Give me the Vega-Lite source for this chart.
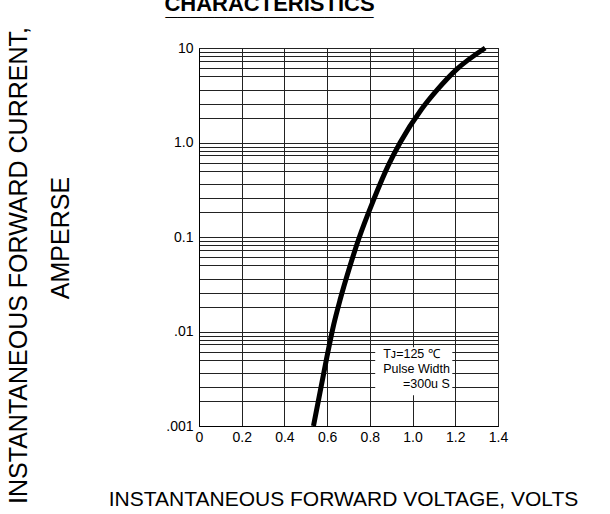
{
  "$schema": "https://vega.github.io/schema/vega-lite/v6.json",
  "width": 299,
  "height": 378,
  "autosize": "none",
  "padding": {"left": 199, "top": 48, "right": 112, "bottom": 88},
  "background": "white",
  "config": {
    "font": "Liberation Sans",
    "view": {"stroke": "black", "strokeWidth": 1}
  },
  "title": {
    "text": ["CHARACTERISTICS", "_________________"],
    "fontSize": 22,
    "fontWeight": "bold",
    "color": "black",
    "anchor": "middle",
    "frame": "group",
    "baseline": "alphabetic",
    "lineHeight": 4,
    "offset": -10.5,
    "dx": -79
  },
  "resolve": {"axis": {"y": "independent"}},
  "datasets": {
    "curve": [
      {"v": 0.536, "i": 0.001},
      {"v": 0.597, "i": 0.00512},
      {"v": 0.631, "i": 0.0119},
      {"v": 0.661, "i": 0.0218},
      {"v": 0.702, "i": 0.0453},
      {"v": 0.747, "i": 0.0942},
      {"v": 0.818, "i": 0.249},
      {"v": 0.888, "i": 0.583},
      {"v": 0.942, "i": 1.0},
      {"v": 1.041, "i": 2.23},
      {"v": 1.116, "i": 3.62},
      {"v": 1.205, "i": 5.9},
      {"v": 1.34, "i": 10}
    ],
    "box": [
      {"x1": 0.825, "x2": 1.186, "y1": 0.0068, "y2": 0.00211}
    ],
    "notes": [
      {"v": 0.8626, "i": 0.0052, "t": "Tᴊ=125 ℃"},
      {"v": 0.8626, "i": 0.0036, "t": "Pulse Width"},
      {"v": 0.955, "i": 0.0025, "t": "=300u S"}
    ]
  },
  "layer": [
    {
      "data": {"name": "box"},
      "mark": {"type": "rect", "fill": "white", "stroke": null},
      "encoding": {
        "x": {"field": "x1", "type": "quantitative"},
        "x2": {"field": "x2"},
        "y": {
          "field": "y1",
          "type": "quantitative",
          "axis": {
            "orient": "left",
            "title": "AMPERSE",
            "titleFontSize": 25,
            "titleFontWeight": "normal",
            "titleColor": "black",
            "titleAngle": -90,
            "titleAlign": "center",
            "titleBaseline": "top",
            "titleX": -151,
            "titleY": 189.5,
            "labels": false,
            "ticks": false,
            "grid": false,
            "domain": false
          }
        },
        "y2": {"field": "y2"}
      }
    },
    {
      "data": {"name": "notes"},
      "mark": {"type": "text", "align": "left", "baseline": "alphabetic", "fontSize": 12.5, "color": "black"},
      "encoding": {
        "x": {"field": "v", "type": "quantitative"},
        "y": {"field": "i", "type": "quantitative", "axis": null},
        "text": {"field": "t"}
      }
    },
    {
      "data": {"name": "curve"},
      "mark": {"type": "line", "color": "black", "strokeWidth": 5, "interpolate": "monotone", "strokeCap": "butt"},
      "encoding": {
        "x": {
          "field": "v",
          "type": "quantitative",
          "scale": {"domain": [0, 1.4], "nice": false, "zero": false},
          "axis": {
            "title": "INSTANTANEOUS FORWARD VOLTAGE, VOLTS",
            "titleFontSize": 21,
            "titleFontWeight": "normal",
            "titleColor": "black",
            "titleAlign": "center",
            "titleBaseline": "alphabetic",
            "titleX": 144,
            "titleY": 79,
            "values": [0, 0.2, 0.4, 0.6, 0.8, 1.0, 1.2, 1.4],
            "labelExpr": "datum.value == 0 ? '0' : format(datum.value, '.1f')",
            "labelFontSize": 14,
            "labelColor": "black",
            "labelPadding": 4,
            "labelFlush": false,
            "labelOverlap": false,
            "ticks": false,
            "grid": true,
            "domainColor": "black",
            "gridColor": "#222",
            "gridWidth": 1
          }
        },
        "y": {
          "field": "i",
          "type": "quantitative",
          "scale": {"type": "log", "domain": [0.001, 10], "nice": false},
          "axis": {
            "orient": "left",
            "title": "INSTANTANEOUS FORWARD CURRENT,",
            "titleFontSize": 25,
            "titleFontWeight": "normal",
            "titleColor": "black",
            "titleAngle": -90,
            "titleAlign": "center",
            "titleBaseline": "top",
            "titleX": -193,
            "titleY": 217,
            "values": [0.001, 0.00183, 0.00256, 0.0036, 0.00503, 0.00612, 0.0073, 0.00816, 0.009,
                       0.01, 0.0183, 0.0256, 0.036, 0.0503, 0.0612, 0.073, 0.0816, 0.09,
                       0.1, 0.183, 0.256, 0.36, 0.503, 0.612, 0.73, 0.816, 0.9,
                       1, 1.83, 2.56, 3.6, 5.03, 6.12, 7.3, 8.16, 9, 10],
            "labelExpr": "datum.value == 10 ? '10' : datum.value == 1 ? '1.0' : datum.value == 0.1 ? '0.1' : datum.value == 0.01 ? '.01' : datum.value == 0.001 ? '.001' : ''",
            "labelFontSize": 14,
            "labelColor": "black",
            "labelPadding": 6,
            "labelFlush": false,
            "labelOverlap": false,
            "labelBound": false,
            "ticks": false,
            "grid": true,
            "domainColor": "black",
            "gridColor": "#222",
            "gridWidth": 1
          }
        }
      }
    }
  ]
}
